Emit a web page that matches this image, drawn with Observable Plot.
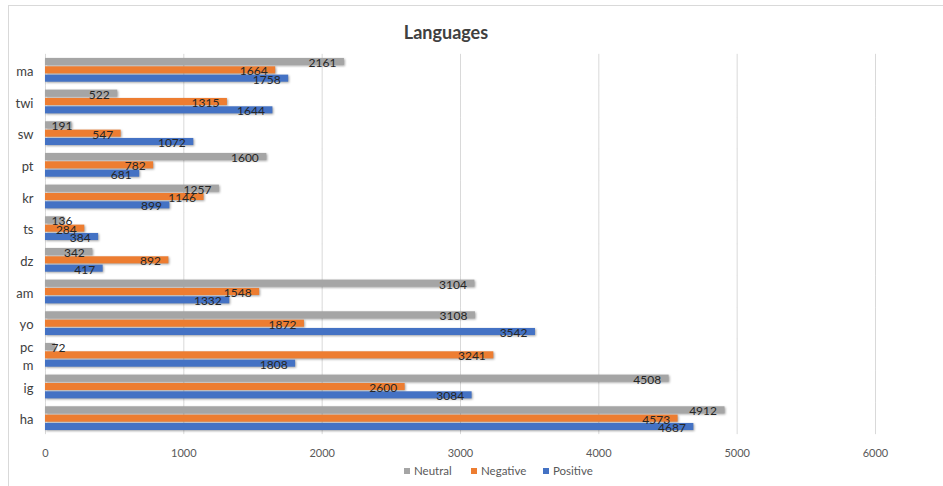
<!DOCTYPE html>
<html><head><meta charset="utf-8">
<script src="https://cdn.jsdelivr.net/npm/d3@7"></script>
<script src="https://cdn.jsdelivr.net/npm/@observablehq/plot@0.6"></script>
<style>
body{margin:0;background:#fff;font-family:Lato,sans-serif;}
#wrap{position:relative;width:943px;height:486px;overflow:hidden;background:#fff;}
#frame{position:absolute;left:8px;top:5px;width:960px;height:500px;border-left:1px solid #d9d9d9;border-top:1px solid #d9d9d9;}
#title{position:absolute;top:20px;left:0;width:892px;text-align:center;font-weight:700;font-size:18px;line-height:24px;color:#404040;}
#chart{position:absolute;left:0;top:0;}
.leg{position:absolute;top:463px;font-size:11.5px;line-height:16px;color:#595959;display:flex;align-items:center;}
.leg i{display:inline-block;width:6px;height:6px;margin-right:4px;}
g[aria-label="bar"] rect{filter:drop-shadow(1.5px 1.5px 1px rgba(0,0,0,0.35));}
</style>
</head><body>
<div id="wrap">
  <div id="frame"></div>
  <div id="chart"></div>
  <div id="title">Languages</div>
  <div id="legend"></div>
</div>
<script>
const languages = ["ma","twi","sw","pt","kr","ts","dz","am","yo","pcm","ig","ha"];
const series = ["Neutral","Negative","Positive"];
const neutral  = [2161, 522, 191, 1600, 1257, 136, 342, 3104, 3108, 72, 4508, 4912];
const negative = [1664, 1315, 547, 782, 1146, 284, 892, 1548, 1872, 3241, 2600, 4573];
const positive = [1758, 1644, 1072, 681, 899, 384, 417, 1332, 3542, 1808, 3084, 4687];
const xTicks = [0, 1000, 2000, 3000, 4000, 5000, 6000];
const colors = ["#a5a5a5", "#ed7d31", "#4472c4"];

const valuesBySeries = [neutral, negative, positive];
const data = languages.flatMap((lang, i) =>
  series.map((s, j) => ({lang, series: s, value: valuesBySeries[j][i]})));

const chart = Plot.plot({
  width: 943, height: 462,
  marginLeft: 45, marginRight: 68, marginTop: 54, marginBottom: 28,
  style: {fontFamily: "Lato, sans-serif", fontSize: "11px", color: "#595959", background: "transparent"},
  x: {domain: [0, 6000], ticks: xTicks, tickSize: 0, tickPadding: 19, label: null, tickFormat: d => String(d)},
  y: {domain: series, paddingInner: 0.15, paddingOuter: 0, round: false, axis: null},
  fy: {domain: languages, paddingInner: 0.25, paddingOuter: 0.125, round: false, label: null},
  color: {domain: series, range: colors},
  marks: [
    Plot.ruleX(xTicks, {stroke: "#d9d9d9", strokeWidth: 1, insetTop: -4.1, insetBottom: -4.1}),
    Plot.barX(data, {fy: "lang", y: "series", x: "value", fill: "series"}),
    Plot.text(data.filter(d => d.value >= 250), {
      fy: "lang", y: "series", x: "value", text: d => String(d.value),
      textAnchor: "end", dx: -8, dy: 1, fill: "#262626", fontSize: 12
    }),
    Plot.text(data.filter(d => d.value < 250), {
      fy: "lang", y: "series", x: () => 0, text: d => String(d.value),
      textAnchor: "start", dx: 6, dy: 1, fill: "#262626", fontSize: 12
    }),
    Plot.axisFy({
      anchor: "left", tickSize: 0, tickPadding: 12, fontSize: 13, lineHeight: 1.35,
      fill: "#404040", label: null,
      tickFormat: d => d === "pcm" ? "pc\nm" : d
    })
  ]
});
document.getElementById("chart").append(chart);

const legendPos = [404, 471, 543];
const legend = document.getElementById("legend");
series.forEach((s, i) => {
  const el = document.createElement("div");
  el.className = "leg";
  el.style.left = legendPos[i] + "px";
  el.innerHTML = `<i style="background:${colors[i]}"></i><span>${s}</span>`;
  legend.append(el);
});
</script>
</body></html>
